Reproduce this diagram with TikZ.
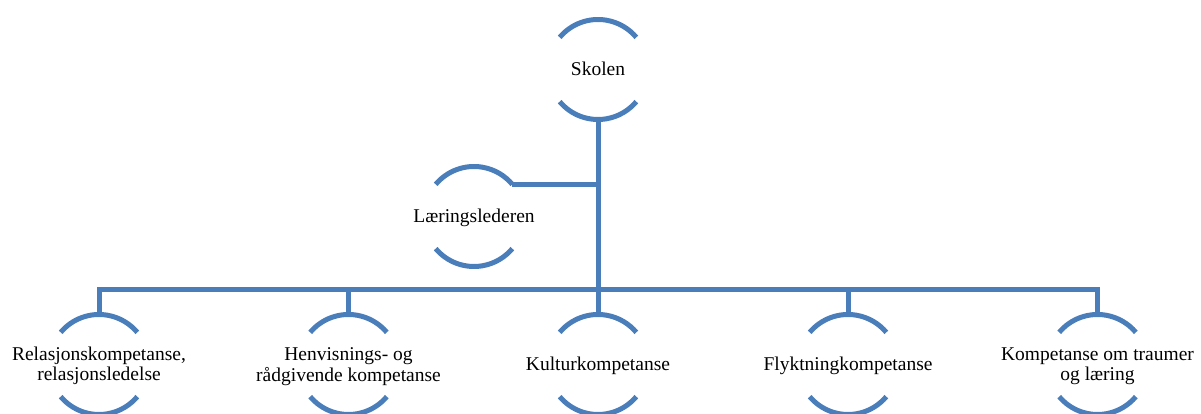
\documentclass[tikz,border=0pt]{standalone}
\usepackage{fontspec}
\setmainfont{Liberation Serif}
\definecolor{ringblue}{RGB}{74,126,187}
\newcommand{\ringtext}[1]{\raisebox{-2.5pt}[\height][\depth]{\makebox[0pt][c]{\begin{tabular}{@{}c@{}}#1\end{tabular}}}}
\tikzset{
  ring/.style={circle, draw=none, minimum size=100pt, inner sep=0pt, outer sep=0pt, font=\fontsize{19.5}{20}\selectfont, text=black},
  arcline/.style={draw=ringblue, line width=5pt},
  conn/.style={draw=ringblue, line width=5pt, line join=miter}
}
\begin{document}
\begin{tikzpicture}[x=1pt,y=1pt]
\useasboundingbox (0,0) rectangle (1201,414);
\node[ring] (skolen) at (598,344.5) {\ringtext{Skolen}};
\node[ring] (laer) at (474,197.5) {\ringtext{Læringslederen}};
\node[ring] (c1) at (99,49.5) {\ringtext{Relasjonskompetanse,\\relasjonsledelse}};
\node[ring] (c2) at (348.5,49.5) {\ringtext{Henvisnings- og\\rådgivende kompetanse}};
\node[ring] (c3) at (598,49.5) {\ringtext{Kulturkompetanse}};
\node[ring] (c4) at (848,49.5) {\ringtext{Flyktningkompetanse}};
\node[ring] (c5) at (1097.5,49.5) {\ringtext{Kompetanse om traumer\\og læring}};
\coordinate (bus) at (598,124);
\foreach \n in {skolen,laer,c1,c2,c3,c4,c5}{
  \draw[arcline] (\n.140) arc[start angle=140, end angle=40, radius=50pt];
  \draw[arcline] (\n.220) arc[start angle=220, end angle=320, radius=50pt];
}
\draw[conn] (skolen.south) -- (bus);
\draw[conn] (laer.40) -- (laer.40 -| skolen.south);
\foreach \n in {c1,c2,c3,c4,c5}{
  \draw[conn] (\n.north) |- (bus);
}
\end{tikzpicture}
\end{document}
